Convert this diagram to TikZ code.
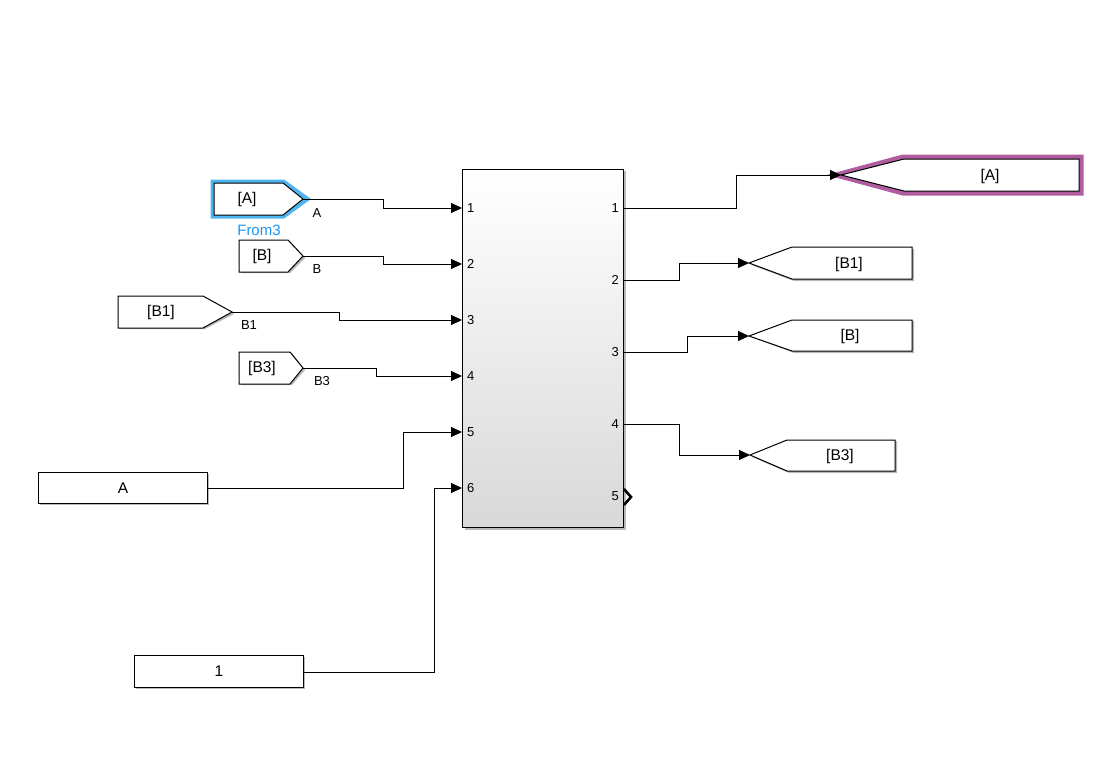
\documentclass[tikz,border=0pt]{standalone}
\usepackage{fontspec}
\setmainfont{Liberation Sans}
\usetikzlibrary{arrows.meta,calc}
\definecolor{glowblue}{RGB}{80,180,240}
\definecolor{glowmag}{RGB}{176,92,160}
\definecolor{fromblue}{RGB}{30,150,240}
\definecolor{shadowgray}{RGB}{185,185,185}
\definecolor{blkbottom}{RGB}{216,216,216}
\tikzset{
  sig/.style={line width=0.9pt,-{Triangle[length=11pt,width=10pt]}},
  blkline/.style={draw=black,line width=1pt,fill=white},
  blktext/.style={font=\fontsize{15.5}{17}\selectfont,inner sep=0pt},
  sigtext/.style={font=\fontsize{13}{15}\selectfont,inner sep=0pt},
  porttext/.style={font=\fontsize{13}{15}\selectfont,inner sep=0pt},
}
\begin{document}
\begin{tikzpicture}[x=1pt,y=-1pt]
\useasboundingbox (0,0) rectangle (1099,777);
\fill[white] (0,0) rectangle (1099,777);

% ---------- main subsystem block ----------
\fill[shadowgray] (465,171) rectangle (626,530);
\node[draw=black,line width=1pt,minimum width=161pt,minimum height=358pt,inner sep=0pt,
      top color=white,middle color=white,bottom color=blkbottom,anchor=north west] (blk) at (462,169) {};
% input ports
\foreach \i/\y in {1/208,2/264,3/320,4/376,5/432,6/488}{
  \coordinate (in\i) at (462,\y);
  \node[porttext,anchor=west] (inl\i) at (467,\y) {\i};
}
% output ports
\foreach \i/\y in {1/208,2/280,3/352,4/424}{
  \coordinate (out\i) at (623,\y);
  \node[porttext,anchor=east] (outl\i) at (619,\y) {\i};
}
\node[porttext,anchor=east] (outl5) at (619,496) {5};
\coordinate (out5) at (623,497);
\draw[line width=2.6pt,line join=miter] ($(out5)+(1,-8)$) -- ($(out5)+(8,0)$) -- ($(out5)+(1,8)$);

% ---------- From blocks ----------
% [A] highlighted
\draw[glowblue,line width=7pt,line join=miter] (214,183) -- (283,183) -- (305,199) -- (283,215) -- (214,215) -- cycle;
\draw[blkline] (214,183) -- (283,183) -- (303,199) -- (283,215) -- (214,215) -- cycle;
\node[blktext] (fA) at (247,199) {[A]};
\coordinate (fAtip) at (303,199);
\node[font=\fontsize{15}{17}\selectfont,text=fromblue,inner sep=0pt] (fAname) at (259,230) {From3};

% [B]
\fill[shadowgray] (241,241) -- (290,241) -- (305,258) -- (290,273) -- (241,273) -- cycle;
\draw[blkline] (239,240) -- (288,240) -- (303,256) -- (288,272) -- (239,272) -- cycle;
\node[blktext] (fB) at (262,256) {[B]};
\coordinate (fBtip) at (303,256);

% [B1]
\fill[shadowgray] (120,297) -- (205,297) -- (234,314) -- (205,329) -- (120,329) -- cycle;
\draw[blkline] (118,296) -- (203,296) -- (232,312) -- (203,328) -- (118,328) -- cycle;
\node[blktext] (fB1) at (161,312) {[B1]};
\coordinate (fB1tip) at (232,312);

% [B3]
\fill[shadowgray] (241,353) -- (292,353) -- (305,370) -- (292,385) -- (241,385) -- cycle;
\draw[blkline] (239,352) -- (290,352) -- (303,368) -- (290,384) -- (239,384) -- cycle;
\node[blktext] (fB3) at (262,368) {[B3]};
\coordinate (fB3tip) at (303,368);

% ---------- Constant blocks ----------
\fill[shadowgray] (40,474) rectangle (209,505);
\node[blkline,minimum width=169pt,minimum height=31pt,inner sep=0pt,anchor=north west] (cA) at (38,472) {};
\node[blktext] (cAt) at (123,488) {A};

\fill[shadowgray] (136,657) rectangle (305,689);
\node[blkline,minimum width=169pt,minimum height=32pt,inner sep=0pt,anchor=north west] (c1) at (134,655) {};
\node[blktext] (c1t) at (219,671) {1};

% ---------- Goto blocks ----------
% [A] highlighted
\draw[glowmag,line width=7pt,line join=miter] (840,175) -- (903,158) -- (1080,158) -- (1080,192) -- (903,192) -- cycle;
\draw[draw=black,line width=1pt,fill=white] (841,175) -- (904,159) -- (1079,159) -- (1079,191) -- (904,191) -- cycle;
\node[blktext] (gA) at (990,176) {[A]};
\coordinate (gAtip) at (841,175);

% [B1]
\fill[shadowgray] (751,265) -- (794,249) -- (914,249) -- (914,281) -- (794,281) -- cycle;
\draw[blkline] (749,263) -- (792,247) -- (912,247) -- (912,279) -- (792,279) -- cycle;
\node[blktext] (gB1) at (849,264) {[B1]};
\coordinate (gB1tip) at (749,263);

% [B]
\fill[shadowgray] (751,337) -- (794,321) -- (914,321) -- (914,353) -- (794,353) -- cycle;
\draw[blkline] (749,336) -- (792,320) -- (912,320) -- (912,351) -- (792,351) -- cycle;
\node[blktext] (gB) at (850,336) {[B]};
\coordinate (gBtip) at (749,336);

% [B3]
\fill[shadowgray] (752,457) -- (789,441) -- (897,441) -- (897,473) -- (789,473) -- cycle;
\draw[blkline] (750,455) -- (787,440) -- (895,440) -- (895,471) -- (787,471) -- cycle;
\node[blktext] (gB3) at (840,456) {[B3]};
\coordinate (gB3tip) at (750,455);

% ---------- signal lines ----------
\draw[sig] (fAtip) -- (383,199) |- (in1);
\draw[sig] (fBtip) -- (383,256) |- (in2);
\draw[sig] (fB1tip) -- (339,312) |- (in3);
\draw[sig] (fB3tip) -- (376,368) |- (in4);
\draw[sig] (cA.east |- 0,488) -- (403,488) |- (in5);
\draw[sig] (c1.east |- 0,672) -- (434,672) |- (in6);

\node[sigtext] (lA) at (317,213) {A};
\node[sigtext] (lB) at (317,269) {B};
\node[sigtext] (lB1) at (249,325) {B1};
\node[sigtext] (lB3) at (322,381) {B3};

\draw[sig] (out1) -- (736,208) |- (gAtip);
\draw[sig] (out2) -- (679,280) |- (gB1tip);
\draw[sig] (out3) -- (687,352) |- (gBtip);
\draw[sig] (out4) -- (679,424) |- (gB3tip);
\end{tikzpicture}
\end{document}
